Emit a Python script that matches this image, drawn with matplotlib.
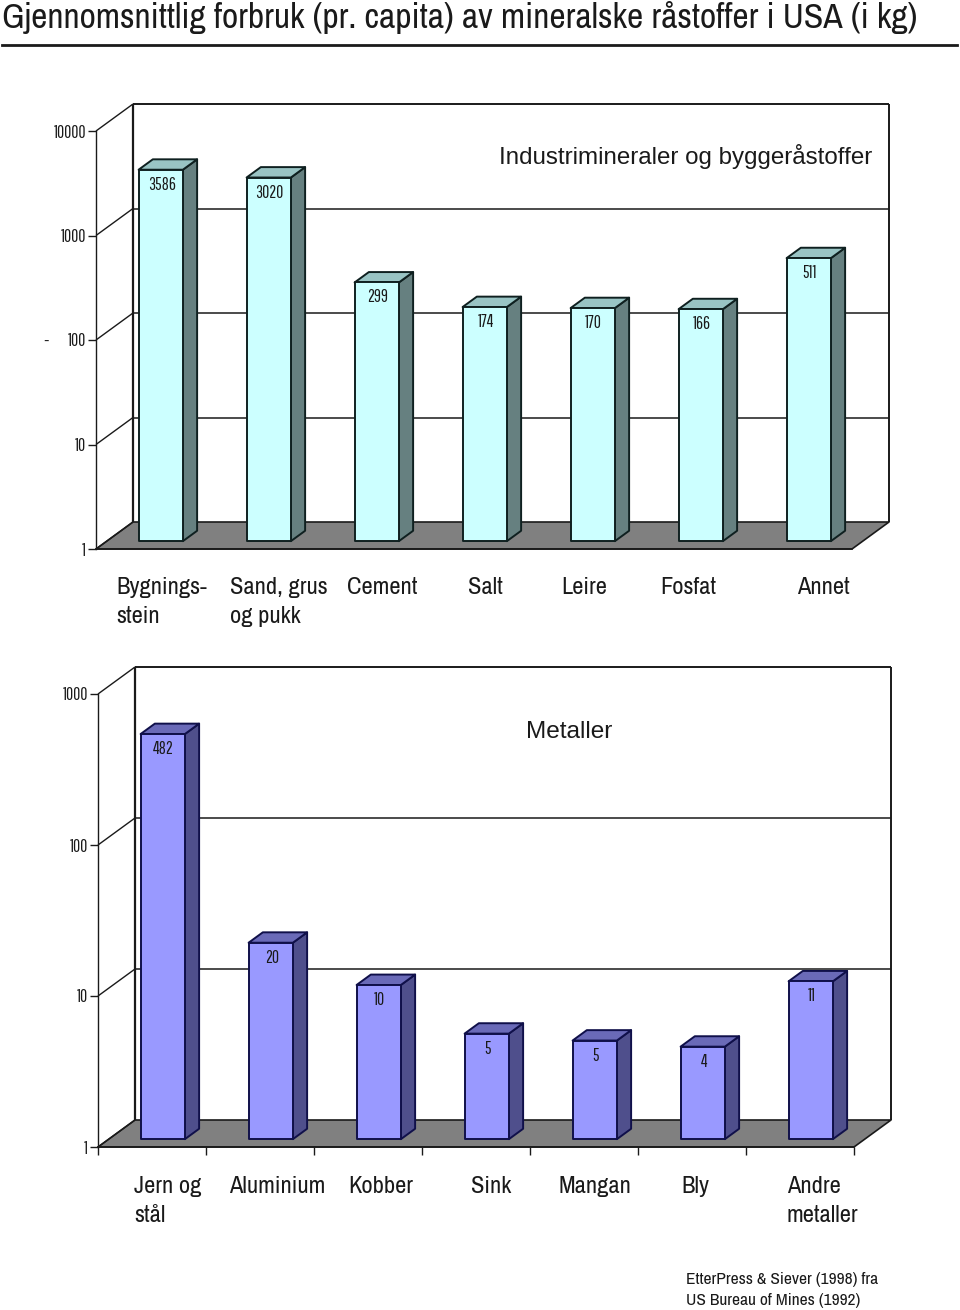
import matplotlib
matplotlib.use("Agg")
import numpy as np
import matplotlib.pyplot as plt
from matplotlib.patches import Polygon
from matplotlib.transforms import IdentityTransform

# Data
mineral_names = ["Bygnings-\nstein", "Sand, grus\nog pukk", "Cement", "Salt", "Leire", "Fosfat", "Annet"]
mineral_values = [3586, 3020, 299, 174, 170, 166, 511]
mineral_labels = ["3586", "3020", "299", "174", "170", "166", "511"]
mineral_ticks = [1, 10, 100, 1000, 10000]

metal_names = ["Jern og\nstål", "Aluminium", "Kobber", "Sink", "Mangan", "Bly", "Andre\nmetaller"]
metal_values = [482, 20, 10.5, 5.0, 4.5, 4.1, 11.1]
metal_labels = ["482", "20", "10", "5", "5", "4", "11"]
metal_ticks = [1, 10, 100, 1000]

# Layout in picture pixels
W, H = 960, 1310
DEPTH_X, DEPTH_Y = 37, 27
BAR_WIDTH = 0.41
BAR_D0, BAR_D1 = 0.29, 0.675

NARROW = ["Archivo Narrow", "Liberation Sans"]
TINY = ["Pathway Gothic One", "Archivo Narrow", "Liberation Sans"]
ARIAL = ["Liberation Sans"]

fig = plt.figure(figsize=(W / 100, H / 100), dpi=100)


def px_text(x, y, s, size, family=NARROW, **kw):
    fig.text(x / W, 1 - y / H, s, fontsize=size, family=family, color="#1a1a1a", **kw)


def make_axes(left, right, top, bottom, ymax):
    ax = fig.add_axes([left / W, 1 - bottom / H, (right - left) / W, (bottom - top) / H])
    ax.set_xlim(0, 7)
    ax.set_yscale("log")
    ax.set_ylim(1, ymax)
    ax.patch.set_alpha(0)
    ax.set_autoscale_on(False)
    return ax


def project(ax, x, y, d):
    px, py = ax.transData.transform((x, y))
    return px + d * DEPTH_X, py + d * DEPTH_Y


def poly(ax, pts, face, edge, lw, z):
    ax.add_patch(Polygon(pts, closed=True, facecolor=face, edgecolor=edge, linewidth=lw,
                         transform=IdentityTransform(), clip_on=False, zorder=z, joinstyle="round"))


def seg(ax, a, b, lw=1.2, z=2, color="#1a1a1a"):
    ax.plot([a[0], b[0]], [a[1], b[1]], color=color, linewidth=lw, transform=IdentityTransform(),
            clip_on=False, zorder=z, solid_capstyle="butt")


def draw_panel(ax, values, labels, ticks, face, side, top, edge, xticks):
    ymax = ticks[-1]
    p = lambda x, y, d: project(ax, x, y, d)

    # floor and walls
    poly(ax, [p(0, 1, 0), p(7, 1, 0), p(7, 1, 1), p(0, 1, 1)], "#808080", "#1a1a1a", 1.2, 1)
    seg(ax, p(0, 1, 1), p(0, ymax, 1), 1.6)
    seg(ax, p(7, 1, 1), p(7, ymax, 1), 1.4)
    seg(ax, p(0, ymax, 1), p(7, ymax, 1), 1.4)
    for t in ticks:
        seg(ax, p(0, t, 0), p(0, t, 1), 1.0)
        if t > 1 and t < ymax:
            seg(ax, p(0, t, 1), p(7, t, 1), 1.1)

    # bars
    for i, v in enumerate(values):
        x0 = i + 0.5 - BAR_WIDTH / 2
        x1 = i + 0.5 + BAR_WIDTH / 2
        poly(ax, [p(x1, 1, BAR_D0), p(x1, v, BAR_D0), p(x1, v, BAR_D1), p(x1, 1, BAR_D1)], side, edge, 1.4, 3)
        poly(ax, [p(x0, v, BAR_D0), p(x1, v, BAR_D0), p(x1, v, BAR_D1), p(x0, v, BAR_D1)], top, edge, 1.4, 3)
        poly(ax, [p(x0, 1, BAR_D0), p(x1, 1, BAR_D0), p(x1, v, BAR_D0), p(x0, v, BAR_D0)], face, edge, 1.4, 4)
        lx, ly = p(i + 0.5, v, BAR_D0)
        ax.annotate(labels[i], (lx, ly), xycoords=IdentityTransform(), xytext=(1, -15),
                    textcoords="offset pixels", ha="center", va="center", fontsize=12.5,
                    family=TINY, color="#1a1a1a", zorder=5, annotation_clip=False)

    # front axes
    for name in ["top", "right"]:
        ax.spines[name].set_visible(False)
    ax.spines["left"].set_linewidth(1.0)
    ax.spines["left"].set_color("#1a1a1a")
    ax.spines["bottom"].set_linewidth(1.2)
    ax.spines["bottom"].set_color("#1a1a1a")
    ax.set_yticks(ticks)
    ax.set_yticklabels([str(t) for t in ticks], family=TINY, fontsize=12.5, color="#1a1a1a")
    ax.minorticks_off()
    ax.tick_params(axis="y", length=6, width=1.0, pad=1, color="#1a1a1a")
    if xticks:
        ax.set_xticks(np.arange(8))
        ax.tick_params(axis="x", length=6, width=1.0, color="#1a1a1a", labelbottom=False)
    else:
        ax.set_xticks([])


# Title
px_text(2, 28, "Gjennomsnittlig forbruk (pr. capita) av mineralske råstoffer i USA (i kg)", 25.6, family=NARROW)
fig.add_artist(plt.Line2D([2 / W, 957 / W], [1 - 45 / H, 1 - 45 / H], color="#1a1a1a", linewidth=2))

# Minerals
ax1 = make_axes(96, 852, 131, 549, 10000)
draw_panel(ax1, mineral_values, mineral_labels, mineral_ticks, "#CCFFFF", "#668080", "#99C4C4", "#0f2020", False)
px_text(499, 164, "Industrimineraler og byggeråstoffer", 17.4, family=ARIAL)
px_text(43, 346, "-", 12, family=ARIAL)

mineral_x = [116, 230, 347, 468, 561, 660, 797]
for x, name in zip(mineral_x, mineral_names):
    for j, line in enumerate(name.split("\n")):
        px_text(x, 594 + j * 29, line, 17.6)

# Metals
ax2 = make_axes(98, 854, 694, 1147, 1000)
draw_panel(ax2, metal_values, metal_labels, metal_ticks, "#9999FF", "#4F4F8C", "#6A6AB8", "#10104a", True)
px_text(526, 738, "Metaller", 17.6, family=ARIAL)

metal_x = [134, 229, 348, 471, 559, 681, 787]
for x, name in zip(metal_x, metal_names):
    for j, line in enumerate(name.split("\n")):
        px_text(x, 1193 + j * 29, line, 17.6)

# Source
px_text(686, 1284, "EtterPress & Siever (1998) fra", 12.5)
px_text(686, 1305, "US Bureau of Mines (1992)", 12.5)

plt.savefig("out.png", dpi=100)
